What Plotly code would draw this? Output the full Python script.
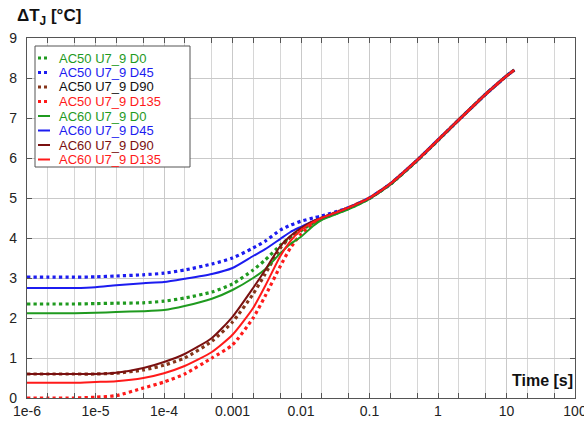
import plotly.graph_objects as go

# ---- data ----
time_s = [1e-6, 2e-6, 5e-6, 1e-5, 2e-5, 5e-5, 1e-4, 2e-4, 5e-4, 1e-3, 2e-3, 3e-3,
          5e-3, 7e-3, 1e-2, 1.5e-2, 2e-2, 5e-2, 0.1, 0.2, 0.5, 1, 2, 5, 10, 13]

tail = [4.76, 5.0, 5.35, 5.95, 6.45, 6.95, 7.6, 8.05, 8.2]

ac50_d0 = [2.35, 2.35, 2.35, 2.36, 2.37, 2.38, 2.42, 2.5, 2.65, 2.85, 3.2, 3.45,
           3.82, 4.02, 4.18, 4.38, 4.48] + [4.74, 4.99, 5.34, 5.94, 6.44, 6.95, 7.6, 8.05, 8.2]
ac50_d45 = [3.02, 3.02, 3.02, 3.03, 3.05, 3.08, 3.12, 3.2, 3.35, 3.5, 3.75, 3.92,
            4.2, 4.32, 4.42, 4.5, 4.55] + tail
ac50_d90 = [0.6, 0.6, 0.6, 0.6, 0.62, 0.7, 0.82, 1.0, 1.42, 1.9, 2.6, 3.1,
            3.75, 4.02, 4.22, 4.4, 4.5] + tail
ac50_d135 = [0.0, 0.0, 0.0, 0.02, 0.06, 0.25, 0.4, 0.6, 1.0, 1.33, 2.0, 2.55,
             3.3, 3.75, 4.1, 4.35, 4.48] + tail
ac60_d0 = [2.12, 2.12, 2.12, 2.13, 2.15, 2.17, 2.2, 2.3, 2.48, 2.7, 3.0, 3.22,
           3.62, 3.85, 4.03, 4.3, 4.45] + [4.72, 4.98, 5.33, 5.94, 6.44, 6.95, 7.6, 8.05, 8.2]
ac60_d45 = [2.75, 2.75, 2.75, 2.77, 2.82, 2.87, 2.9, 2.98, 3.1, 3.25, 3.55, 3.72,
            3.98, 4.15, 4.28, 4.42, 4.5] + tail
ac60_d90 = [0.6, 0.6, 0.6, 0.6, 0.63, 0.75, 0.9, 1.1, 1.5, 2.03, 2.75, 3.2,
            3.8, 4.05, 4.25, 4.42, 4.5] + tail
ac60_d135 = [0.38, 0.38, 0.38, 0.4, 0.42, 0.5, 0.62, 0.8, 1.15, 1.58, 2.25, 2.8,
             3.55, 3.92, 4.2, 4.4, 4.5] + tail

series_names = ["AC50 U7_9 D0", "AC50 U7_9 D45", "AC50 U7_9 D90", "AC50 U7_9 D135",
                "AC60 U7_9 D0", "AC60 U7_9 D45", "AC60 U7_9 D90", "AC60 U7_9 D135"]
series_values = [ac50_d0, ac50_d45, ac50_d90, ac50_d135,
                 ac60_d0, ac60_d45, ac60_d90, ac60_d135]

x_tickvals = [1e-6, 1e-5, 1e-4, 1e-3, 1e-2, 0.1, 1, 10, 100]
x_ticktext = ["1e-6", "1e-5", "1e-4", "0.001", "0.01", "0.1", "1", "10", "100"]
y_tickvals = [0, 1, 2, 3, 4, 5, 6, 7, 8, 9]

# ---- styles ----
line_colors = ["#1f9a1f", "#1c1cf0", "#86351a", "#ff1a1a",
               "#1f9a1f", "#1c1cf0", "#7a1010", "#ff1a1a"]
text_colors = ["#1f9a1f", "#1c1cf0", "#111111", "#ff1a1a",
               "#1f9a1f", "#1c1cf0", "#7a1010", "#ff1a1a"]
dashes = ["dot"] * 4 + ["solid"] * 4
widths = [3.2] * 4 + [2.0] * 4

W, H = 584, 421
ML, MR, MT, MB = 27, 9, 38, 23
PW, PH = W - ML - MR, H - MT - MB


def px_x(p):
    return (p - ML) / PW


def px_y(p):
    return (H - MB - p) / PH


fig = go.Figure()
for name, vals, lc, d, w in zip(series_names, series_values, line_colors, dashes, widths):
    fig.add_trace(go.Scatter(
        x=time_s, y=vals, mode="lines", name=name, showlegend=False,
        line=dict(color=lc, dash=d, width=w, shape="spline", smoothing=0.6),
    ))

axis_common = dict(
    showline=True, linecolor="#555555", linewidth=1.2, mirror="ticks",
    ticks="inside", ticklen=5, tickcolor="#555555",
    showgrid=True, gridcolor="#c9c9c9", gridwidth=1,
    zeroline=False, automargin=False,
    tickfont=dict(family="Arial, Liberation Sans, sans-serif", size=14, color="#222222"),
)

fig.update_xaxes(
    type="log", range=[-6, 2],
    tickvals=x_tickvals, ticktext=x_ticktext, ticklabeloverflow="allow",
    minor=dict(dtick="D2", showgrid=True, gridcolor="#d6d6d6", ticks="inside",
               ticklen=5, tickcolor="#555555"),
    **axis_common,
)
fig.update_yaxes(
    range=[0, 9], tickvals=y_tickvals, ticklabelstandoff=6,
    **axis_common,
)

# ---- legend box built from the series lists ----
shapes = [dict(type="rect", xref="paper", yref="paper",
               x0=px_x(35), x1=px_x(190), y0=px_y(167), y1=px_y(46),
               line=dict(color="#555555", width=1), fillcolor="white", layer="above")]
annotations = []
row0, row_step = 58, 14.5
for i, (name, lc, tc, d, w) in enumerate(zip(series_names, line_colors, text_colors,
                                              dashes, widths)):
    yy = px_y(row0 + i * row_step)
    shapes.append(dict(type="line", xref="paper", yref="paper",
                       x0=px_x(38), x1=px_x(50), y0=yy, y1=yy, layer="above",
                       line=dict(color=lc, dash=d, width=3.0 if d == "dot" else 2.0)))
    annotations.append(dict(text=name, xref="paper", yref="paper",
                            x=px_x(57), y=yy, xanchor="left", yanchor="middle",
                            showarrow=False,
                            font=dict(size=13, color=tc,
                                      family="Arial, Liberation Sans, sans-serif")))

annotations += [
    dict(text="<b>ΔT<sub>J</sub> [°C]</b>", xref="paper", yref="paper",
         x=-0.022, y=1.0, yshift=21, xanchor="left", yanchor="middle",
         showarrow=False, font=dict(size=17, color="#111111")),
    dict(text="<b>Time [s]</b>", xref="paper", yref="paper",
         x=1.0, y=0.05, xanchor="right", yanchor="middle",
         showarrow=False, font=dict(size=16, color="#111111")),
]

fig.update_layout(
    width=W, height=H,
    margin=dict(l=ML, r=MR, t=MT, b=MB, autoexpand=False),
    paper_bgcolor="white", plot_bgcolor="white",
    font=dict(family="Arial, Liberation Sans, sans-serif", size=13),
    showlegend=False,
    shapes=shapes,
    annotations=annotations,
)

fig.write_html("out.html", config={"displayModeBar": False},
               post_script="document.body.style.margin='0';document.body.style.overflow='hidden';")
